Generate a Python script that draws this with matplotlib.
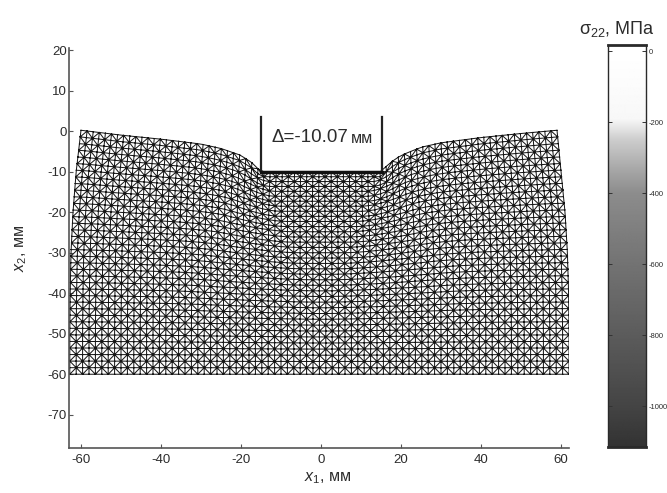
import numpy as np
import matplotlib
matplotlib.use('Agg')
import matplotlib.pyplot as plt
from matplotlib.tri import Triangulation

plt.rcParams['font.family'] = ['Liberation Sans', 'DejaVu Sans']
plt.rcParams['axes.unicode_minus'] = False
plt.rcParams['mathtext.fontset'] = 'custom'
plt.rcParams['mathtext.rm'] = 'Liberation Sans'
plt.rcParams['mathtext.it'] = 'Liberation Sans:italic'

# Deformed outline of the specimen (mm)
top_x = [-60, -50, -40, -30, -25, -20, -17, -15, 15, 17, 20, 25, 30, 40, 50, 59]
top_y = [0.2, -1.0, -2.0, -3.2, -4.3, -6.0, -8.0, -10.07, -10.07, -8.0, -6.0, -4.0, -2.9, -1.6, -0.6, 0.2]
left_y = [0, -10, -20, -30, -40, -50, -60]
left_x = [-60, -61.2, -62.0, -62.5, -62.7, -62.8, -62.8]
right_y = [0, -10, -20, -30, -40, -50, -60]
right_x = [59, 60.0, 61.0, 61.6, 61.9, 62.0, 62.0]
bottom_level = -60
punch_x = [-15, -15, 15.2, 15.2]
punch_y = [3.5, -10.07, -10.07, 3.5]
x_ticks = [-60, -40, -20, 0, 20, 40, 60]
y_ticks = [20, 10, 0, -10, -20, -30, -40, -50, -60, -70]
# Colour scale
cb_ticks = [0, -200, -400, -600, -800, -1000]
cb_labels = ['0', '-200', '-400', '-600', '-800', '-1000']
cb_levels = [18, 0, -190, -250, -330, -400, -600, -800, -1000, -1115]
cb_gray = [1.0, 1.0, 0.97, 0.80, 0.66, 0.55, 0.45, 0.36, 0.27, 0.2]
n_cols, n_rows = 78, 37

W, H = 667, 493
fig = plt.figure(figsize=(W/100, H/100), dpi=100)
INK = '#2c2c2c'

def rect(l, t, r, b):
    return [l/W, 1-b/H, (r-l)/W, (b-t)/H]

ax = fig.add_axes(rect(69, 48, 569, 448))
ax.set_xlim(-63, 62)
ax.set_ylim(-78.2, 20.5)
for s in ('top', 'right'):
    ax.spines[s].set_visible(False)
for s in ('left', 'bottom'):
    ax.spines[s].set_color('#555555')
    ax.spines[s].set_linewidth(1.2)
ax.set_xticks(x_ticks)
ax.set_yticks(y_ticks)
ax.tick_params(direction='in', length=3, width=0.8, color='#555555', labelsize=9.5, labelcolor=INK)
ax.tick_params(axis='y', pad=1.5)
ax.tick_params(axis='x', pad=4.5)

# Mesh: union-jack triangulation of the mapped outline, the indentation fading with depth
u = np.linspace(0, 1, n_cols+1)
v = np.linspace(0, 1, n_rows+1)
U, V = np.meshgrid(u, v)
s = (1-u)*(-60) + u*59
surface = np.interp(s, top_x, top_y)
Y = np.zeros_like(U)
for j, vj in enumerate(v):
    radius = int(round((1-vj)*14))
    pad = np.pad(surface, radius, mode='edge')
    smooth = np.convolve(pad, np.ones(2*radius+1)/(2*radius+1), mode='valid')
    Y[j] = bottom_level - bottom_level*vj + smooth*vj**1.6
depth = -bottom_level*(1-V)
LX = np.interp(depth, -np.array(left_y), left_x)
RX = np.interp(depth, -np.array(right_y), right_x)
X = LX + (RX-LX)*U
idx = lambda i, j: j*(n_cols+1)+i
tris = []
for j in range(n_rows):
    for i in range(n_cols):
        a, b, c, d = idx(i, j), idx(i+1, j), idx(i+1, j+1), idx(i, j+1)
        if (i+j) % 2 == 0:
            tris += [[a, b, c], [a, c, d]]
        else:
            tris += [[a, b, d], [b, c, d]]
tri = Triangulation(X.ravel(), Y.ravel(), tris)
ax.triplot(tri, color='#151515', lw=0.72, zorder=2)
ax.plot(punch_x, punch_y, color='#222222', lw=1.6, zorder=3, solid_joinstyle='miter')
ax.plot(punch_x[1:3], punch_y[1:3], color='#111111', lw=2.4, zorder=3)

fig.text(271/W, 1-137/H, '\u0394=-10.07', fontsize=13.5, color=INK, va='center', ha='left')
fig.text(351/W, 1-138.5/H, '\u043c\u043c', fontsize=11.5, color=INK, va='center', ha='left')
fig.text(304/W, 1-478/H, r'$\mathit{x}_{1}$, ' + '\u043c\u043c', fontsize=11.5, color=INK, va='center', ha='left')
fig.text(21/W, 1-248/H, r'$\mathit{x}_{2}$, ' + '\u043c\u043c', fontsize=11.5, color=INK, rotation=90, va='center', ha='center')

# Colour bar
cax = fig.add_axes(rect(608, 45, 646, 447))
lev = np.linspace(18, -1115, 400)
gray = np.interp(-lev, -np.array(cb_levels), cb_gray)
cax.imshow(gray[:, None], cmap='gray', vmin=0, vmax=1, aspect='auto', extent=[0, 1, -1115, 18], origin='upper')
cax.set_xticks([])
cax.set_yticks(cb_ticks)
cax.set_yticklabels(cb_labels)
cax.yaxis.tick_right()
cax.tick_params(axis='y', direction='in', length=3, width=0.7, left=True, right=True, labelsize=5.5, labelcolor=INK, color='#333333', pad=2)
for sp in cax.spines.values():
    sp.set_color('#2a2a2a')
    sp.set_linewidth(1.0)
cax.spines['top'].set_linewidth(2)
cax.spines['bottom'].set_linewidth(2)
fig.text(617/W, 1-29/H, r'$\mathrm{\sigma}_{22}$, ' + '\u041c\u041f\u0430', fontsize=13, color=INK, ha='center', va='center')

fig.savefig('out.png', dpi=100)
